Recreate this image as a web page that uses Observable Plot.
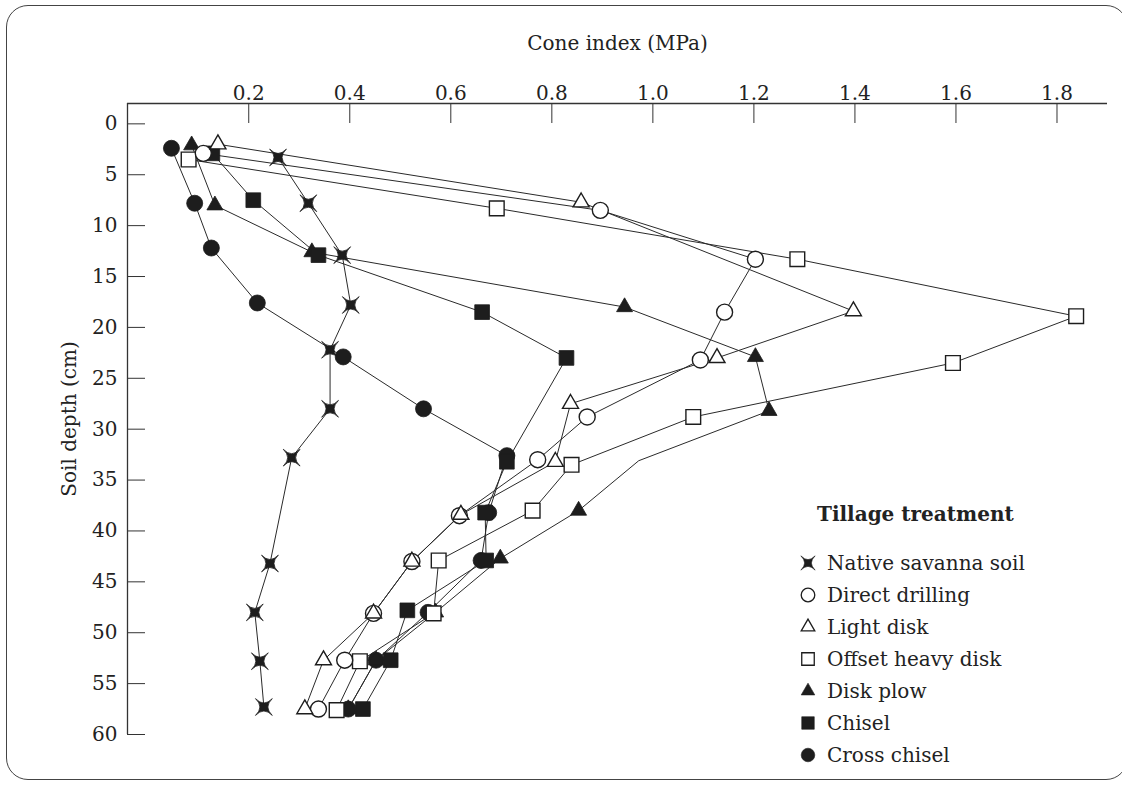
<!DOCTYPE html>
<html><head><meta charset="utf-8">
<script src="https://cdn.jsdelivr.net/npm/d3@7"></script>
<script src="https://cdn.jsdelivr.net/npm/@observablehq/plot@0.6"></script>
<style>
body{margin:0;background:#fff;}
#wrap{position:relative;width:1122px;height:785px;overflow:hidden;font-family:"DejaVu Serif",serif;color:#222;}
#frame{position:absolute;left:6px;top:5px;width:1122px;height:775px;border:1.5px solid #444;border-radius:22px;box-sizing:border-box;}
#chart{position:absolute;left:0;top:0;}
.lg{position:absolute;font-size:20px;line-height:32px;height:32px;white-space:nowrap;}
.lg svg{position:absolute;left:0;top:6px;}
.lg span{position:absolute;left:29px;top:0;}
#lgTitle{position:absolute;left:817px;top:498px;font-size:20px;font-weight:bold;line-height:32px;}
</style></head>
<body><div id="wrap"><div id="frame"></div><div id="chart"></div><div id="legend"></div></div>
<script>
// ---- data (cone index in MPa, soil depth in cm) ----
const seriesNames = ["Native savanna soil","Direct drilling","Light disk","Offset heavy disk","Disk plow","Chisel","Cross chisel"];
const xTicks = [0.2,0.4,0.6,0.8,1.0,1.2,1.4,1.6,1.8];
const yTicks = [0,5,10,15,20,25,30,35,40,45,50,55,60];

const nativeDepth = [3.3,7.8,12.9,17.8,22.2,28.0,32.8,43.2,48.0,52.8,57.3];
const nativeCI    = [0.258,0.318,0.385,0.402,0.361,0.361,0.285,0.242,0.212,0.222,0.230];
const directDepth = [2.9,8.5,13.3,18.5,23.2,28.8,33.0,38.5,43.0,48.1,52.7,57.5];
const directCI    = [0.110,0.896,1.203,1.142,1.094,0.870,0.772,0.617,0.523,0.447,0.390,0.338];
const lightDepth  = [2.0,7.7,18.4,23.0,27.5,33.2,38.4,43.0,48.1,52.7,57.5];
const lightCI     = [0.139,0.858,1.397,1.127,0.837,0.807,0.620,0.523,0.447,0.348,0.311];
const offsetDepth = [3.5,8.3,13.3,18.9,23.5,28.8,33.5,38.0,42.9,48.1,52.8,57.6];
const offsetCI    = [0.081,0.691,1.286,1.838,1.594,1.080,0.839,0.762,0.576,0.566,0.420,0.374];
const plowDepth   = [2.1,8.0,12.6,18.0,22.9,28.2,33.1,38.0,42.7,48.0,52.7,57.5];
const plowCI      = [0.087,0.133,0.325,0.944,1.203,1.230,0.972,0.853,0.698,0.570,0.452,0.397];
const plowNoMarker = [33.1];
const chiselDepth = [2.9,7.5,12.9,18.5,23.0,33.2,38.2,42.9,47.8,52.7,57.5];
const chiselCI    = [0.128,0.209,0.338,0.662,0.829,0.711,0.668,0.670,0.514,0.481,0.426];
const crossDepth  = [2.4,7.8,12.2,17.6,22.9,28.0,32.6,38.2,42.9,48.0,52.7,57.5];
const crossCI     = [0.047,0.093,0.126,0.217,0.387,0.546,0.711,0.675,0.660,0.555,0.452,0.397];

// ---- symbols ----
const R = s => Math.sqrt(s / Math.PI);
const shapes = {
  star: {draw(c, s){ const a = R(s)*1.05, k = 0.05*a;
    c.moveTo(-a,-a); c.quadraticCurveTo(0,k,a,-a);
    c.quadraticCurveTo(-k,0,a,a);
    c.quadraticCurveTo(0,-k,-a,a);
    c.quadraticCurveTo(k,0,-a,-a); c.closePath(); }},
  circle: {draw(c, s){ const r = R(s); c.moveTo(r,0); c.arc(0,0,r,0,2*Math.PI); c.closePath(); }},
  square: {draw(c, s){ const h = R(s)*0.92; c.rect(-h,-h,2*h,2*h); }},
  triangle: {draw(c, s){ const w = R(s)*1.0, h = w*Math.sqrt(3);
    c.moveTo(0,-2*h/3); c.lineTo(w,h/3); c.lineTo(-w,h/3); c.closePath(); }}
};
const INK = "#1d1d1d";
const styleOf = {
  "Native savanna soil": {shape: "star", fill: INK},
  "Direct drilling": {shape: "circle", fill: "white"},
  "Light disk": {shape: "triangle", fill: "white"},
  "Offset heavy disk": {shape: "square", fill: "white"},
  "Disk plow": {shape: "triangle", fill: INK},
  "Chisel": {shape: "square", fill: INK},
  "Cross chisel": {shape: "circle", fill: INK}
};
const pairs = {
  "Native savanna soil": [nativeDepth, nativeCI],
  "Direct drilling": [directDepth, directCI],
  "Light disk": [lightDepth, lightCI],
  "Offset heavy disk": [offsetDepth, offsetCI],
  "Disk plow": [plowDepth, plowCI],
  "Chisel": [chiselDepth, chiselCI],
  "Cross chisel": [crossDepth, crossCI]
};
const table = seriesNames.flatMap(name => pairs[name][0].map((d, i) => ({series: name, depth: d, ci: pairs[name][1][i],
  marker: !(name === "Disk plow" && plowNoMarker.includes(d))})));

const drawOrder = ["Native savanna soil","Cross chisel","Disk plow","Chisel","Offset heavy disk","Direct drilling","Light disk"];
const xDomain = [-0.04, 1.90], yDomain = [-2, 60];

const chart = Plot.plot({
  width: 1122, height: 785,
  marginLeft: 127, marginRight: 15, marginTop: 103, marginBottom: 51,
  x: {domain: xDomain},
  y: {domain: yDomain, reverse: true},
  style: {fontFamily: '"DejaVu Serif", serif', fontSize: "20px", color: "#222", background: "transparent", overflow: "visible"},
  marks: [
    Plot.axisX(xTicks, {anchor: "top", tickSize: -19, tickPadding: 23, tickFormat: d3.format(".1f"),
      label: "Cone index (MPa)", labelAnchor: "center", labelOffset: 68, labelArrow: false, stroke: "#333"}),
    Plot.axisY(yTicks, {anchor: "left", tickSize: -18, tickPadding: 28,
      label: "Soil depth (cm)", labelAnchor: "center", labelOffset: 66, labelArrow: false, stroke: "#333"}),
    Plot.ruleY([yDomain[0]], {stroke: "#333", strokeWidth: 1.3}),
    Plot.ruleX([xDomain[0]], {y1: yDomain[0], y2: yTicks[yTicks.length-1], stroke: "#333", strokeWidth: 1.3}),
    Plot.line(table, {x: "ci", y: "depth", z: "series", stroke: "#2a2a2a", strokeWidth: 1}),
    ...drawOrder.map(name => Plot.dot(table.filter(d => d.series === name && d.marker), {
      x: "ci", y: "depth", r: 8, symbol: shapes[styleOf[name].shape],
      fill: styleOf[name].fill, stroke: INK, strokeWidth: styleOf[name].fill === "white" ? 1.4 : 0.8
    }))
  ]
});
document.getElementById("chart").appendChild(chart);

// ---- legend ----
const legend = document.getElementById("legend");
const t = document.createElement("div"); t.id = "lgTitle"; t.textContent = "Tillage treatment"; legend.appendChild(t);
seriesNames.forEach((name, i) => {
  const row = document.createElement("div"); row.className = "lg";
  row.style.left = "798px"; row.style.top = (547 + 32*i) + "px";
  const p = d3.path(); shapes[styleOf[name].shape].draw(p, 6.8*6.8*Math.PI);
  const svg = d3.create("svg").attr("width", 20).attr("height", 20);
  svg.append("path").attr("transform", "translate(10,10)").attr("d", p.toString())
    .attr("fill", styleOf[name].fill).attr("stroke", INK).attr("stroke-width", styleOf[name].fill === "white" ? 1.3 : 0.6);
  row.appendChild(svg.node());
  const s = document.createElement("span"); s.textContent = name; row.appendChild(s);
  legend.appendChild(row);
});
</script></body></html>
